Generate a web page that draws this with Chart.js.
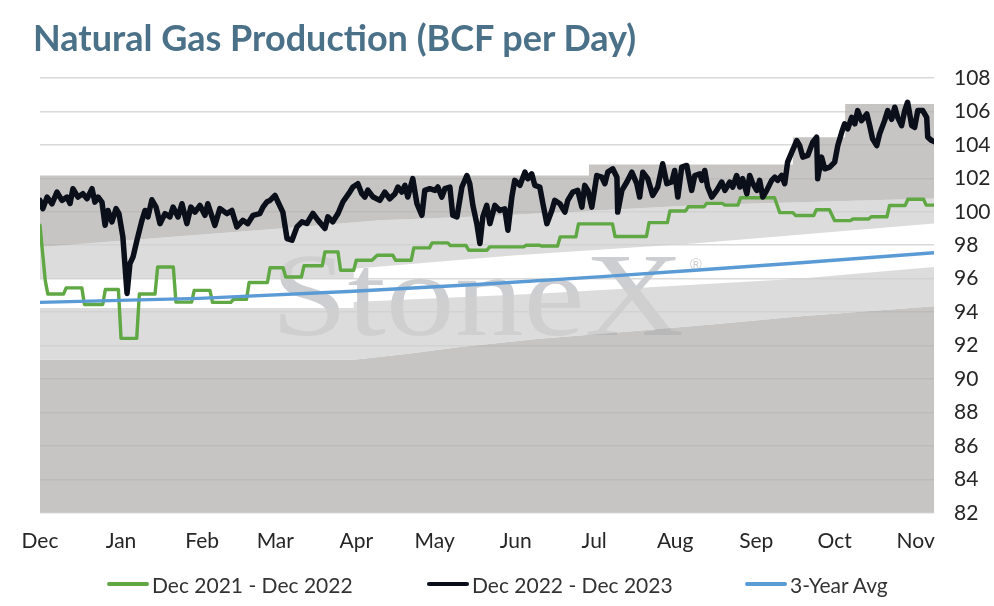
<!DOCTYPE html>
<html>
<head>
<meta charset="utf-8">
<title>Natural Gas Production (BCF per Day)</title>
<script src="https://cdn.jsdelivr.net/npm/chart.js@4.4.0/dist/chart.umd.min.js"></script>
<style>
  body { margin: 0; background: #fff; }
  .wrap { position: relative; width: 994px; height: 606px; font-family: Lato, sans-serif; }
  .chart-title { position: absolute; left: 33px; top: 15px; margin: 0; font-weight: 700; font-size: 36px; color: #4b7189; white-space: nowrap; }
  .legend-item { position: absolute; top: 571px; height: 26px; display: flex; align-items: center; font-size: 21px; color: #333; white-space: nowrap; }
  .swatch { display: inline-block; width: 42px; height: 4px; border-radius: 2px; margin-right: 3px; }
  canvas { position: absolute; left: 0; top: 0; }
</style>
</head>
<body>
<div class="wrap">
  <canvas id="gasChart" width="994" height="606"></canvas>
  <h1 class="chart-title">Natural Gas Production (BCF per Day)</h1>
  <div id="legend"></div>
</div>
<script>
// x values are days counted from Dec 1
const monthDays = [0, 31, 62, 90, 121, 151, 182, 212, 243, 274, 304, 335];
const monthLabels = ["Dec", "Jan", "Feb", "Mar", "Apr", "May", "Jun", "Jul", "Aug", "Sep", "Oct", "Nov"];

// Dec 2021 - Dec 2022 (weekly levels)
const greenDays = [0, 2, 3, 9, 10, 16, 17, 24, 25, 30, 31, 37, 38, 44, 45, 51, 52, 58, 59, 65,
  66, 73, 74, 79, 80, 87, 88, 93, 94, 100, 101, 108, 109, 114, 115, 120, 121, 127, 129, 135,
  136, 142, 143, 149, 150, 156, 157, 163, 164, 171, 172, 185, 186, 191, 192, 198, 199, 205,
  206, 219, 220, 232, 233, 240, 241, 247, 248, 254, 255, 261, 262, 267, 268, 281, 283, 288,
  289, 296, 297, 302, 304, 310, 311, 317, 318, 324, 325, 331, 332, 338, 339, 342];
const greenVals = [99.2, 95.9, 95.08, 95.08, 95.45, 95.45, 94.46, 94.46, 95.35, 95.35, 92.43, 92.43,
  95.08, 95.08, 96.7, 96.7, 94.6, 94.6, 95.3, 95.3, 94.58, 94.58, 94.76, 94.76, 95.77, 95.77,
  96.65, 96.65, 96.1, 96.1, 96.77, 96.77, 97.6, 97.6, 96.5, 96.5, 97.1, 97.1, 97.4, 97.4,
  97.1, 97.1, 97.84, 97.84, 98.14, 98.14, 97.98, 97.98, 97.7, 97.7, 97.9, 97.9, 98.0, 98.0,
  97.95, 97.95, 98.5, 98.5, 99.28, 99.28, 98.52, 98.52, 99.35, 99.35, 100.05, 100.05,
  100.3, 100.3, 100.5, 100.5, 100.4, 100.4, 100.84, 100.84, 99.95, 99.95, 99.78, 99.78,
  100.12, 100.12, 99.47, 99.47, 99.57, 99.57, 99.7, 99.7, 100.38, 100.38, 100.75, 100.75,
  100.4, 100.4];

// Dec 2022 - Dec 2023 (daily)
const blackDays = [0, 1.1, 2.7, 4.6, 6.5, 8.4, 10.3, 11.5, 12.6, 14.5, 16.4, 18.0, 19.9, 21.0, 22.2,
  23.7, 24.9, 26.0, 27.5, 29.1, 30.2, 31.7, 33.3, 34.4, 35.6, 37.1, 39.0, 40.2, 41.3, 42.8,
  44.4, 45.9, 47.8, 49.7, 50.9, 52.8, 54.3, 56.2, 57.7, 59.3, 61.2, 63.1, 64.2, 66.9, 68.8,
  71.5, 73.4, 75.3, 77.6, 79.5, 81.5, 84.1, 85.3, 86.8, 88.0, 89.9, 91.0, 92.9, 94.5, 96.4,
  98.3, 100.2, 102.1, 104.4, 106.3, 109.0, 110.1, 112.0, 114.0, 115.9, 118.5, 119.7, 121.6,
  123.1, 124.3, 125.4, 127.3, 130.0, 131.9, 133.8, 135.8, 136.9, 138.4, 139.6, 140.7, 142.6,
  144.2, 146.1, 147.2, 149.1, 151.1, 152.2, 153.7, 154.9, 156.8, 157.9, 159.5, 161.4, 163.3,
  164.4, 165.6, 167.1, 168.3, 169.4, 170.9, 172.1, 174.0, 175.9, 177.8, 179.0, 180.5, 181.6,
  183.6, 185.5, 186.6, 188.1, 189.3, 191.2, 192.4, 193.9, 195.8, 196.9, 198.9, 200.8, 201.9,
  203.8, 205.7, 207.3, 208.4, 209.6, 211.1, 213.0, 214.9, 216.1, 217.2, 219.1, 220.7, 221.0,
  222.6, 224.5, 226.4, 228.3, 229.4, 230.6, 232.5, 234.4, 236.3, 238.2, 239.8, 241.7, 242.8,
  244.0, 245.5, 247.4, 249.3, 250.5, 252.4, 253.2, 254.3, 255.4, 257.0, 258.9, 260.8, 262.0,
  263.9, 265.0, 266.5, 267.7, 268.8, 270.4, 271.5, 272.7, 274.2, 275.3, 276.5, 278.0, 279.9,
  281.1, 282.2, 283.7, 284.9, 286.0, 287.6, 289.5, 290.6, 291.8, 293.7, 295.6, 297.1, 297.5,
  299.0, 300.2, 302.1, 304.0, 305.2, 306.7, 307.8, 309.0, 310.5, 311.7, 312.8, 314.3, 316.3,
  317.4, 318.5, 320.1, 321.2, 323.1, 324.3, 325.8, 327.0, 328.1, 329.6, 330.8, 331.9, 333.5,
  334.6, 335.8, 337.7, 339.2, 339.6, 341.1, 342.0];
const blackVals = [100.68, 100.19, 100.88, 100.48, 101.18, 100.68, 100.88, 100.5, 101.38, 100.88,
  101.08, 100.78, 101.38, 100.58, 100.88, 100.58, 99.19, 100.08, 99.39, 100.19, 99.89, 98.5,
  95.12, 96.9, 97.3, 98.3, 99.49, 100.08, 99.69, 100.72, 100.28, 99.29, 99.89, 99.69, 100.28,
  99.69, 100.48, 99.29, 100.28, 99.98, 100.38, 99.79, 100.48, 99.19, 100.19, 99.89, 100.08,
  99.1, 99.49, 99.29, 99.79, 99.89, 100.28, 100.6, 100.68, 100.98, 100.6, 99.98, 98.4, 98.3,
  99.1, 99.4, 99.3, 99.9, 99.5, 99.0, 99.7, 99.4, 99.9, 100.6, 101.18, 101.48, 101.68,
  101.08, 100.88, 101.3, 100.9, 100.68, 101.18, 100.78, 101.08, 101.48, 101.18, 101.58,
  100.88, 101.98, 100.48, 99.79, 101.28, 101.38, 101.28, 101.48, 100.88, 101.38, 101.48,
  99.79, 99.69, 101.48, 102.17, 101.68, 100.38, 99.29, 98.1, 99.69, 100.38, 99.29, 100.38,
  100.08, 100.18, 98.9, 100.88, 101.88, 101.58, 102.37, 101.98, 102.27, 101.58, 101.48,
  100.48, 99.29, 100.08, 100.68, 100.48, 99.98, 100.68, 101.18, 101.28, 100.28, 101.58,
  101.28, 100.28, 102.17, 102.07, 101.68, 102.37, 102.57, 102.07, 99.98, 101.28, 101.78,
  102.37, 101.68, 100.88, 102.37, 101.98, 100.98, 101.48, 102.87, 101.68, 101.78, 102.47,
  100.88, 102.67, 102.77, 101.28, 102.17, 102.27, 101.88, 102.47, 101.48, 100.88, 101.28,
  101.78, 101.28, 101.78, 101.48, 102.17, 101.48, 101.98, 101.08, 102.17, 101.68, 101.28,
  101.88, 100.88, 101.28, 101.88, 102.07, 101.88, 102.17, 101.68, 102.97, 103.57, 104.26,
  103.96, 103.27, 103.37, 104.16, 104.46, 101.98, 103.27, 102.57, 102.67, 102.97, 103.96,
  104.76, 105.26, 104.96, 105.65, 105.26, 106.05, 105.45, 105.85, 105.15, 104.36, 103.96,
  104.66, 105.45, 106.05, 105.53, 106.25, 105.65, 105.15, 106.05, 106.55, 105.15, 105.05,
  106.05, 106.05, 105.65, 104.46, 104.26, 104.2];

// 3-Year Avg
const avgDays = [0, 61, 120, 172, 215, 252, 291, 342];
const avgVals = [94.58, 94.82, 95.25, 95.7, 96.12, 96.52, 96.95, 97.55];

// historical range band edges, top to bottom
const bandTopDays = [0, 210, 210, 288, 288, 308, 308, 342];
const bandTopVals = [102.17, 102.17, 102.83, 102.83, 104.45, 104.45, 106.45, 106.45];
const bandUpperDays = [0, 92, 130, 172, 253, 342];
const bandUpperVals = [97.9, 99.0, 99.5, 99.75, 100.4, 100.8];
const bandMidHiDays = [0, 120, 120, 182, 250, 342];
const bandMidHiVals = [96.0, 96.0, 96.6, 97.4, 98.1, 99.3];
const bandMidLoDays = [0, 120, 120, 190, 290, 342];
const bandMidLoVals = [94.25, 94.25, 94.6, 95.1, 96.0, 96.7];
const bandLowDays = [0, 120, 140, 160, 190, 230, 260, 291, 342];
const bandLowVals = [91.15, 91.15, 91.5, 91.9, 92.4, 92.9, 93.3, 93.75, 94.35];

const seriesNames = ["Dec 2021 - Dec 2022", "Dec 2022 - Dec 2023", "3-Year Avg"];
const seriesColors = ["#5fa843", "#0a0f1a", "#5b9bd5"];

const DARK = "rgba(178, 177, 175, 0.74)";
const LIGHT = "rgba(208, 208, 208, 0.74)";

function pts(days, vals) {
  return days.map((d, i) => ({ x: d, y: vals[i] }));
}

function band(days, vals, fill, color) {
  return {
    data: pts(days, vals),
    fill: fill,
    backgroundColor: color,
    borderWidth: 0,
    pointRadius: 0,
    order: 10
  };
}

// faint StoneX mark under the range bands
const watermark = {
  id: "watermark",
  beforeDatasetsDraw(chart) {
    const ctx = chart.ctx;
    ctx.save();
    ctx.fillStyle = "#cdced2";
    ctx.font = '118px "Liberation Serif", "DejaVu Serif", serif';
    const w = ctx.measureText("StoneX").width;
    ctx.translate(271, 335);
    ctx.scale(413 / w, 1);
    ctx.fillText("StoneX", 0, 0);
    ctx.restore();
    ctx.save();
    ctx.fillStyle = "#cdced2";
    ctx.font = '16px "Liberation Sans", sans-serif';
    ctx.fillText("\u00AE", 690, 270);
    ctx.restore();
  }
};

const ctx = document.getElementById("gasChart").getContext("2d");
const gasChart = new Chart(ctx, {
  type: "line",
  data: {
    datasets: [
      {
        label: seriesNames[0],
        data: pts(greenDays, greenVals),
        borderColor: seriesColors[0],
        borderWidth: 3.4,
        pointRadius: 0,
        fill: false,
        order: 3
      },
      {
        label: seriesNames[1],
        data: pts(blackDays, blackVals),
        borderColor: seriesColors[1],
        borderWidth: 5.5,
        pointRadius: 0,
        fill: false,
        order: 2
      },
      {
        label: seriesNames[2],
        data: pts(avgDays, avgVals),
        borderColor: seriesColors[2],
        borderWidth: 3.4,
        pointRadius: 0,
        fill: false,
        order: 1
      },
      band(bandTopDays, bandTopVals, 4, DARK),
      band(bandUpperDays, bandUpperVals, 5, LIGHT),
      band(bandMidHiDays, bandMidHiVals, false, LIGHT),
      band(bandMidLoDays, bandMidLoVals, 7, LIGHT),
      band(bandLowDays, bandLowVals, "start", DARK)
    ]
  },
  options: {
    responsive: false,
    animation: false,
    elements: {
      line: { tension: 0, borderJoinStyle: "round", borderCapStyle: "round" }
    },
    layout: {
      padding: { top: 78, left: 40, right: 0, bottom: 44 }
    },
    scales: {
      x: {
        type: "linear",
        min: 0,
        max: 342,
        grid: { display: false },
        border: { display: false },
        afterBuildTicks: function (scale) {
          scale.ticks = monthDays.map((d) => ({ value: d }));
        },
        ticks: {
          autoSkip: false,
          maxRotation: 0,
          padding: 8,
          color: "#262626",
          font: { family: "Lato", size: 21 },
          callback: function (value) {
            return monthLabels[monthDays.indexOf(value)];
          }
        }
      },
      y: {
        position: "right",
        min: 82,
        max: 108,
        afterFit: function (scale) {
          scale.width = 60;
        },
        grid: { color: "#d9d9d9", lineWidth: 1.5, drawTicks: false },
        border: { display: false },
        ticks: {
          stepSize: 2,
          padding: 20,
          color: "#262626",
          font: { family: "Lato", size: 21 }
        }
      }
    },
    plugins: {
      legend: { display: false },
      tooltip: { enabled: false }
    }
  },
  plugins: [watermark]
});

// legend under the chart
const legendLeft = [107, 427, 745];
const legendBox = document.getElementById("legend");
seriesNames.forEach((name, i) => {
  const item = document.createElement("div");
  item.className = "legend-item";
  item.style.left = legendLeft[i] + "px";
  const sw = document.createElement("span");
  sw.className = "swatch";
  sw.style.background = seriesColors[i];
  item.appendChild(sw);
  item.appendChild(document.createTextNode(name));
  legendBox.appendChild(item);
});
</script>
</body>
</html>
